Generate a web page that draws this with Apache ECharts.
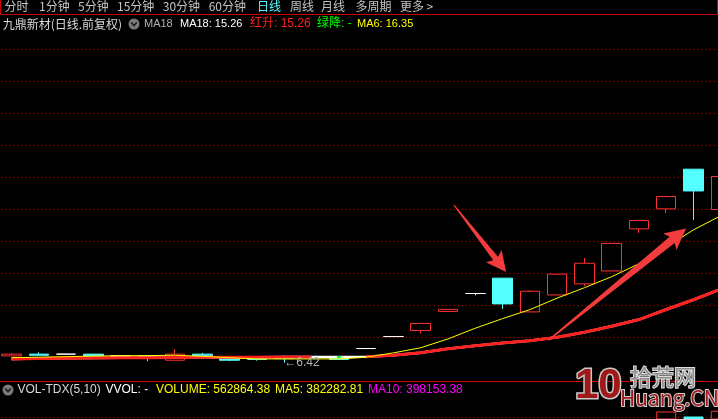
<!DOCTYPE html>
<html><head><meta charset="utf-8">
<script src="https://cdn.jsdelivr.net/npm/echarts@6/dist/echarts.min.js"></script>
<style>html,body{margin:0;padding:0;background:#000;overflow:hidden;width:718px;height:419px;position:relative}#c{position:absolute;left:-3px;top:0;width:740px;height:419px}</style>
</head><body><div id="c"></div>
<script>
// ---------- data ----------
const categories = ['1','2','3','4','5','6','7','8','9','10','11','12','13','14','15','16','17','18','19','20','21','22','23','24','25','26','27'];
const opens  = [6.85,6.96,6.96,6.96,6.85,6.85,6.58,6.96,6.71,6.71,6.74,6.76,6.75,7.31,8.06,8.44,9.63,10.75,11.71,9.60,10.66,11.35,12.16,14.79,16.04,18.52,16.00];
const closes = [6.96,6.89,6.96,6.85,6.85,6.77,6.96,6.83,6.58,6.63,6.68,6.76,6.63,7.31,8.06,8.88,9.76,10.75,10.10,10.89,11.96,12.64,13.88,15.31,16.81,17.16,18.06];
const lows   = [6.85,6.89,6.96,6.85,6.85,6.52,6.58,6.69,6.52,6.55,6.42,6.76,6.63,7.31,8.06,8.25,9.63,10.64,9.79,9.60,10.66,11.21,12.16,14.54,15.79,15.35,16.00];
const highs  = [7.02,7.08,6.96,6.96,6.85,6.85,7.27,7.04,6.71,6.71,6.76,6.76,6.75,7.31,8.06,8.88,9.76,10.75,11.71,10.96,11.96,12.96,13.88,15.31,16.81,18.52,18.06];
const ma6  = [6.74,6.77,6.80,6.84,6.86,6.87,6.89,6.82,6.74,6.66,6.66,6.66,6.66,6.77,7.04,7.36,7.91,8.58,9.18,9.74,10.46,11.11,11.80,12.61,13.64,14.73,15.61];
const ma18 = [6.66,6.68,6.70,6.72,6.73,6.74,6.75,6.76,6.765,6.77,6.775,6.78,6.775,6.80,6.89,7.05,7.30,7.49,7.66,7.80,8.02,8.33,8.70,9.12,9.75,10.36,11.02];
const ma18Before = 6.64;
const volumes = [null,null,null,null,null,null,null,null,null,null,null,null,null,null,null,null,null,null,null,null,null,null,null,null,590000,565000,593500];
const priceGridLines = [8,10,12,14,16,18,20,22,24,26];
const volumeGridLines = [560000];
const tabLabels = ['分时','1分钟','5分钟','15分钟','30分钟','60分钟','日线','周线','月线','多周期','更多','>'];
const activeTab = '日线';
const stockTitle = '九鼎新材(日线.前复权)';
const maHeader = ['MA18','MA18: 15.26','红升: 15.26','绿降: -','MA6: 16.35'];
const volHeader = ['VOL-TDX(5,10)','VVOL: -','VOLUME: 562864.38','MA5: 382282.81','MA10: 398153.38'];
const arrowTails = [[16.22,16.27],[19.68,7.83]];
const arrowTips  = [[18.13,12.10],[24.73,14.81]];

// ---------- styles ----------
const UP = '#ff3232', DOWN = '#54ffff', DOJI = '#ffffff';
const OFF = 3; // canvas is shifted 3px left so the plot can run past the right edge
const chart = echarts.init(document.getElementById('c'), null, {width:740, height:419});

const candleData = categories.map((_, i) => {
  const v = [opens[i], closes[i], lows[i], highs[i]];
  if (opens[i] === closes[i]) return {value: v, itemStyle: {color: DOJI, color0: DOJI, borderColor: DOJI, borderColor0: DOJI}};
  return v;
});
const ma18Red = ma18.map((v, i) => v > (i ? ma18[i-1] : ma18Before) ? v : null);
const ma18Green = ma18.map((v, i) => v < (i ? ma18[i-1] : ma18Before) ? v : null);
const volData = volumes.map((v, i) => {
  if (v == null) return null;
  const up = closes[i] >= opens[i];
  return {value: v, itemStyle: up ? {color: '#000', borderColor: UP, borderWidth: 1} : {color: DOWN, borderColor: DOWN, borderWidth: 1}};
});
const gridDot = {color: '#b01010', width: 1, type: [1, 3]};

chart.setOption({
  backgroundColor: '#000',
  animation: false,
  grid: [
    {left: OFF - 2.14, width: 736.56, top: 17.5, height: 352},
    {left: OFF - 2.14, width: 736.56, top: 401.5, height: 17.5}
  ],
  xAxis: [
    {type: 'category', data: categories, gridIndex: 0, show: false, boundaryGap: true},
    {type: 'category', data: categories, gridIndex: 1, show: false, boundaryGap: true}
  ],
  yAxis: [
    {type: 'value', gridIndex: 0, min: 6, max: 28, show: false, splitLine: {show: false}},
    {type: 'value', gridIndex: 1, min: 552500, max: 640000, show: false, splitLine: {show: false}}
  ],
  series: [
    {type: 'line', name: 'gridlines', data: categories.map(() => null), z: 1, silent: true,
     markLine: {z: 0, silent: true, symbol: 'none', label: {show: false}, lineStyle: gridDot, animation: false,
       data: priceGridLines.map(v => ({yAxis: v}))}},
    {type: 'candlestick', name: 'K', data: candleData, barWidth: 20, z: 2,
     itemStyle: {color: '#000', color0: DOWN, borderColor: UP, borderColor0: DOWN, borderColorDoji: DOJI, borderWidth: 1},
     markPoint: {symbol: 'circle', symbolSize: 0, animation: false,
       data: [{type: 'min', valueDim: 'lowest'}],
       label: {show: true, position: 'right', distance: 0, color: '#b4b4b4', fontSize: 12, fontFamily: 'Liberation Sans, DejaVu Sans',
         formatter: p => '←' + p.value.toFixed(2)}}},
    {type: 'line', name: 'MA18', data: ma18, showSymbol: false, z: 3, lineStyle: {color: '#ffffff', width: 2.5}},
    {type: 'line', name: '红升', data: ma18Red, showSymbol: false, z: 3, lineStyle: {color: '#ff2020', width: 3}},
    {type: 'line', name: '绿降', data: ma18Green, showSymbol: true, symbol: 'rect', symbolSize: [4, 2], z: 3,
     itemStyle: {color: '#00ff00'}, lineStyle: {color: '#00ff00', width: 3}},
    {type: 'line', name: 'MA6', data: ma6, showSymbol: false, z: 4, lineStyle: {color: '#ffff00', width: 1}},
    {type: 'bar', name: 'VOL', xAxisIndex: 1, yAxisIndex: 1, data: volData, barWidth: 20, z: 2,
     markLine: {z: 0, silent: true, symbol: 'none', label: {show: false}, lineStyle: gridDot, animation: false,
       data: volumeGridLines.map(v => ({yAxis: v}))}}
  ]
});

// ---------- annotations / header ----------
function toPx(idx, price) {
  const i0 = Math.floor(idx), f = idx - i0;
  const a = chart.convertToPixel({xAxisIndex: 0, yAxisIndex: 0}, [i0, price]);
  const b = chart.convertToPixel({xAxisIndex: 0, yAxisIndex: 0}, [i0 + 1, price]);
  return [a[0] + (b[0] - a[0]) * f - OFF, a[1]];
}
function arrow(t, h, headLen, headHalf, neckW, tailW, sweep) {
  const dx = h[0] - t[0], dy = h[1] - t[1], L = Math.hypot(dx, dy);
  const ux = dx / L, uy = dy / L, nx = -uy, ny = ux;
  const bx = h[0] - ux * headLen, by = h[1] - uy * headLen;
  const wx = bx - ux * sweep, wy = by - uy * sweep;
  return [
    [t[0] + nx * tailW / 2, t[1] + ny * tailW / 2],
    [bx + nx * neckW / 2, by + ny * neckW / 2],
    [wx + nx * headHalf, wy + ny * headHalf],
    [h[0], h[1]],
    [wx - nx * headHalf, wy - ny * headHalf],
    [bx - nx * neckW / 2, by - ny * neckW / 2],
    [t[0] - nx * tailW / 2, t[1] - ny * tailW / 2]
  ];
}
const CJK = 'Noto Sans CJK SC';
const LAT = 'Liberation Sans';
function txt(s, x, y, fill, size, fam, extra) {
  return Object.assign({type: 'text', silent: true, style: Object.assign({text: s, x: x, y: y, fill: fill,
    font: (size || 12) + 'px "' + (fam || CJK) + '", "' + CJK + '"', textVerticalAlign: 'middle', verticalAlign: 'middle', textAlign: 'left', align: 'left'}, extra || {})});
}
const g = [];
// tab bar
g.push({type: 'rect', silent: true, shape: {x: 0.5, y: -2, width: 717, height: 16.5}, style: {fill: 'none', stroke: '#c80000', lineWidth: 1}});
const tabX = [4.6, 39, 78, 117, 162.8, 208.7, 256.9, 290, 321, 355.5, 400, 426.6];
tabLabels.forEach((s, i) => g.push(txt(s, tabX[i], 6, s === activeTab ? '#55ffff' : '#c4c4c4', 12, CJK)));
// title row
g.push(txt(stockTitle, 2.7, 24, '#d8d8d8', 12, CJK));
g.push({type: 'circle', silent: true, shape: {cx: 134, cy: 24, r: 5.5}, style: {fill: '#7a7a7a'}});
g.push({type: 'polyline', silent: true, shape: {points: [[131.2, 22.6], [134, 25.6], [136.8, 22.6]]}, style: {stroke: '#1a1a1a', lineWidth: 1.5, fill: 'none'}});
g.push(txt(maHeader[0], 144, 24, '#b0b0b0', 11, LAT));
g.push(txt(maHeader[1], 180, 24, '#ffffff', 11, LAT));
g.push(txt(maHeader[2], 250, 24, '#ff2020', 12, LAT));
g.push(txt(maHeader[3], 317, 24, '#00ff00', 12, LAT));
g.push(txt(maHeader[4], 357, 24, '#ffff00', 11, LAT));
// separator + volume header
g.push({type: 'line', silent: true, shape: {x1: 0, y1: 381.5, x2: 718, y2: 381.5}, style: {stroke: '#d00000', lineWidth: 1}});
g.push({type: 'circle', silent: true, shape: {cx: 8, cy: 390, r: 5.5}, style: {fill: '#7a7a7a'}});
g.push({type: 'polyline', silent: true, shape: {points: [[5.2, 388.6], [8, 391.6], [10.8, 388.6]]}, style: {stroke: '#1a1a1a', lineWidth: 1.5, fill: 'none'}});
const volX = [17.4, 105.5, 156, 275, 368];
const volC = ['#d8d8d8', '#ffffff', '#ffff00', '#ffff00', '#ff00ff'];
volHeader.forEach((s, i) => g.push(txt(s, volX[i], 390, volC[i], 12, LAT)));
// arrows
arrowTails.forEach((t, k) => {
  const a = toPx(t[0], t[1]), b = toPx(arrowTips[k][0], arrowTips[k][1]);
  const pts = k === 0 ? arrow(a, b, 17, 10, 6, 1, 3) : arrow(a, b, 18, 10.5, 8, 1.5, 3);
  g.push({type: 'polygon', silent: true, z: 50, shape: {points: pts}, style: {fill: '#f03c3c'}});
});
// watermark
g.push(txt('10', 575, 386, '#a01818', 42, 'Liberation Sans', {font: 'bold 42px "Liberation Sans Narrow", "Liberation Sans"', stroke: '#c8c8c8', lineWidth: 3}));
g.push(txt('拾荒网', 630, 377, '#8c8c8c', 22, CJK, {stroke: '#dcdcdc', lineWidth: 2}));
g.push(txt('Huang.CN', 620, 398, '#a01818', 21, 'Liberation Sans Narrow', {stroke: '#d0d0d0', lineWidth: 2}));
chart.setOption({graphic: {elements: [{type: 'group', x: OFF, y: 0, children: g}]}});
</script>
</body></html>
